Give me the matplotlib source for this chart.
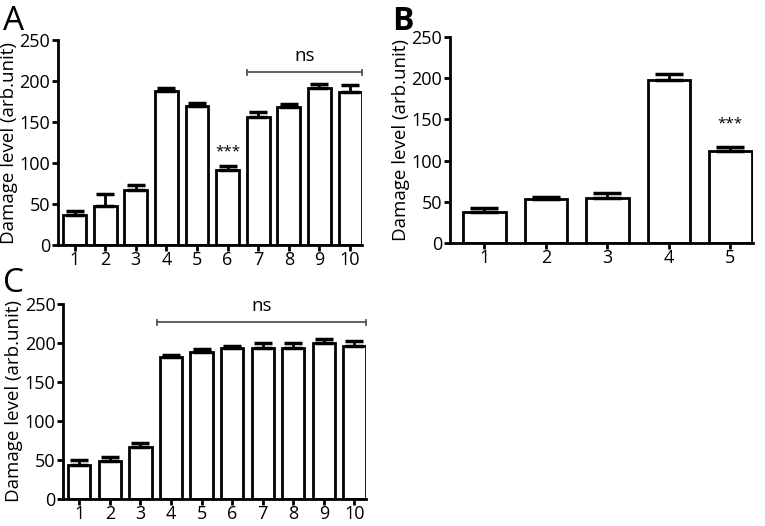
import numpy as np
import matplotlib
matplotlib.use('Agg')
import matplotlib.pyplot as plt

plt.rcParams['font.family'] = ['Open Sans', 'DejaVu Sans']

# panel A
labels_a = ['1', '2', '3', '4', '5', '6', '7', '8', '9', '10']
values_a = [36.5, 48, 67.5, 187.5, 170, 91.5, 156.5, 168.5, 192, 186]
errors_a = [5, 14, 5.5, 3.5, 3, 4.5, 5.5, 4, 4, 9]

# panel B
labels_b = ['1', '2', '3', '4', '5']
values_b = [37.5, 53, 54, 198, 111]
errors_b = [5, 3, 6.5, 7.5, 5]

# panel C
labels_c = ['1', '2', '3', '4', '5', '6', '7', '8', '9', '10']
values_c = [43.5, 49, 66, 182.5, 188.5, 194, 193, 193.5, 200.5, 196.5]
errors_c = [6, 5, 5.5, 2.5, 4, 2, 7.5, 7, 4.5, 6]


def bar_panel(ax, labels, values, errors, width, xlim, cap, label_x):
    x = np.arange(1, len(values) + 1)
    ax.bar(x, values, width, color='white', edgecolor='black', linewidth=2, zorder=2)
    ax.errorbar(x, values, yerr=[np.zeros(len(errors)), errors], fmt='none',
                ecolor='black', elinewidth=2, capsize=cap, capthick=2.5, zorder=3)
    ax.set_xlim(*xlim)
    ax.set_ylim(0, 250)
    ax.set_yticks([0, 50, 100, 150, 200, 250])
    ax.set_xticks(x)
    ax.set_xticklabels(labels)
    for s in ['top', 'right']:
        ax.spines[s].set_visible(False)
    for s in ['left', 'bottom']:
        ax.spines[s].set_linewidth(2)
    ax.tick_params(axis='both', labelsize=13, width=2, length=4, pad=1.5)
    ax.tick_params(axis='x', pad=0.5)
    ax.set_ylabel('Damage level (arb.unit)', fontsize=13.5)
    ax.yaxis.set_label_coords(label_x, 0.5)
    return x


def ns_bracket(ax, x0, x1, y, text_y):
    ax.plot([x0, x1], [y, y], color='#555555', lw=1.3, clip_on=False)
    for xe in (x0, x1):
        ax.plot([xe, xe], [y - 4, y + 3], color='#555555', lw=1.3, clip_on=False)
    ax.text((x0 + x1) / 2, text_y, 'ns', ha='center', va='bottom', fontsize=13.5)


fig = plt.figure(figsize=(7.65, 5.26), dpi=100)

ax_a = fig.add_axes([0.0758, 0.534, 0.397, 0.390])
bar_panel(ax_a, labels_a, values_a, errors_a, 0.75, (0.46, 10.38), 6.5, -0.132)
ns_bracket(ax_a, 6.62, 10.38, 211, 220)
ax_a.text(6, 104, '***', ha='center', va='bottom', fontsize=11)

ax_b = fig.add_axes([0.588, 0.538, 0.3957, 0.392])
bar_panel(ax_b, labels_b, values_b, errors_b, 0.69, (0.44, 5.36), 10, -0.132)
ax_b.text(5, 135, '***', ha='center', va='bottom', fontsize=11)

ax_c = fig.add_axes([0.0824, 0.052, 0.3957, 0.370])
bar_panel(ax_c, labels_c, values_c, errors_c, 0.73, (0.47, 10.37), 6.5, -0.132)
ns_bracket(ax_c, 3.55, 10.37, 227, 236)

fig.text(0.004, 0.99, 'A', fontsize=24, va='top', ha='left')
fig.text(0.512, 0.99, 'B', fontsize=23, va='top', ha='left', fontweight='bold')
fig.text(0.004, 0.492, 'C', fontsize=24, va='top', ha='left')

fig.savefig('out.png', dpi=100)
